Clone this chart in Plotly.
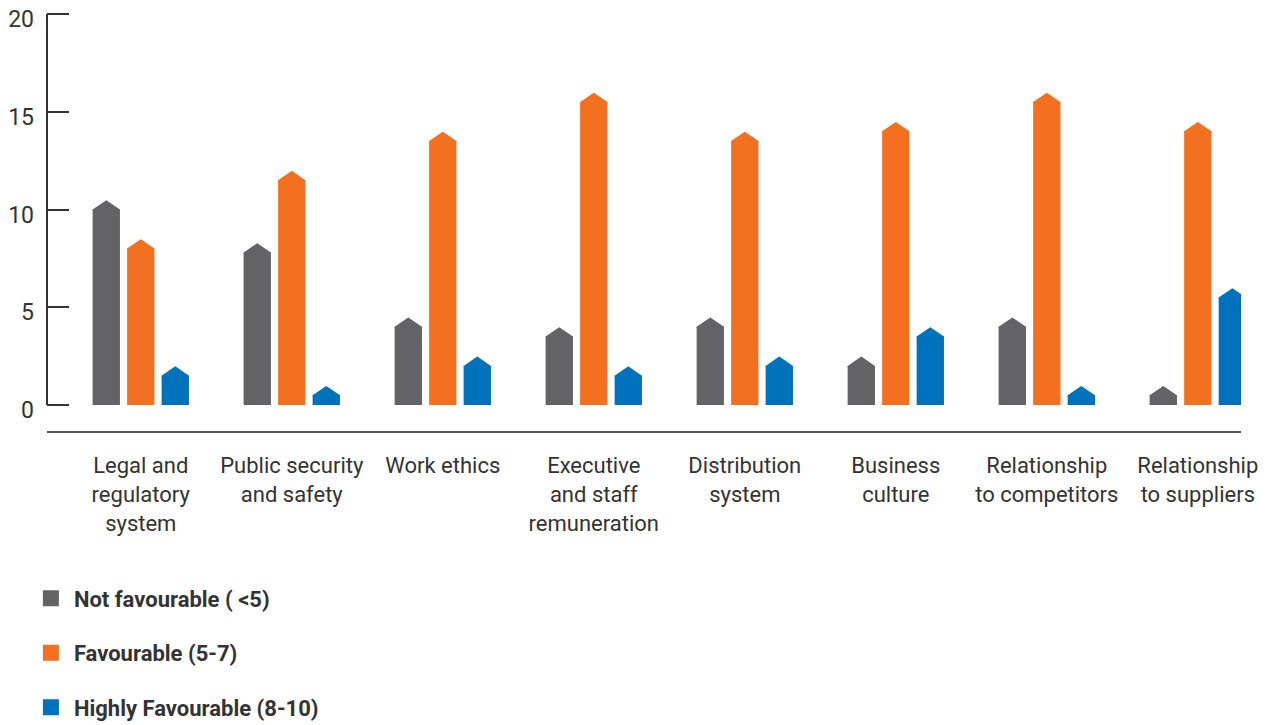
import plotly.graph_objects as go

categories = ["Legal and<br>regulatory<br>system", "Public security<br>and safety", "Work ethics",
              "Executive<br>and staff<br>remuneration", "Distribution<br>system", "Business<br>culture",
              "Relationship<br>to competitors", "Relationship<br>to suppliers"]
not_favourable = [10, 7.8, 4, 3.5, 4, 2, 4, 0.5]
favourable = [8, 11.5, 13.5, 15.5, 13.5, 14, 15.5, 14]
highly_favourable = [1.5, 0.5, 2, 1.5, 2, 3.5, 0.5, 5.5]
series_names = ["Not favourable ( <5)", "Favourable (5-7)", "Highly Favourable (8-10)"]
colors = ["#636365", "#F37021", "#0072BC"]
y_ticks = [0, 5, 10, 15, 20]

FONT = "Roboto, Liberation Sans, sans-serif"
bar_w = 0.181
offsets = [-0.2285, 0, 0.2285]
tip = 0.476

fig = go.Figure()
idx = list(range(len(categories)))
for j, (vals, name, col) in enumerate(zip([not_favourable, favourable, highly_favourable], series_names, colors)):
    xs = [i + offsets[j] for i in idx]
    fig.add_trace(go.Bar(x=xs, y=vals, width=bar_w, marker=dict(color=col, line=dict(width=0)),
                         name=name, showlegend=False, hoverinfo="skip"))
    px, py = [], []
    for x, v in zip(xs, vals):
        px += [x - bar_w / 2, x, x + bar_w / 2, x + bar_w / 2, x - bar_w / 2, None]
        py += [v, v + tip, v, v - 0.05, v - 0.05, None]
    fig.add_trace(go.Scatter(x=px, y=py, mode="lines", fill="toself", fillcolor=col,
                             line=dict(width=0, color=col), showlegend=False, hoverinfo="skip"))
    # legend proxy
    fig.add_trace(go.Scatter(x=[None], y=[None], mode="markers", name=name, legendgroup=name,
                             marker=dict(symbol="square", size=17, color=col)))

fig.update_layout(
    width=1272, height=725,
    margin=dict(l=47, r=31, t=8, b=294, autoexpand=False),
    paper_bgcolor="white", plot_bgcolor="white",
    barmode="overlay",
    font=dict(family=FONT, color="#333333"),
    xaxis=dict(range=[-0.621, 7.286], tickmode="array", tickvals=idx, ticktext=categories,
               showgrid=False, zeroline=False, showline=True, linecolor="#555555", linewidth=2,
               ticks="", ticklabelstandoff=14, automargin=False,
               tickfont=dict(size=22, color="#333333", family=FONT)),
    yaxis=dict(range=[-1.33, 20.307], tickmode="array", tickvals=y_ticks, showgrid=False, zeroline=False,
               showline=False, ticks="inside", ticklen=22, tickwidth=2, tickcolor="#333333",
               ticklabelshift=5, ticklabelstandoff=12, ticklabeloverflow="allow", automargin=False,
               tickfont=dict(size=23, color="#333333", family=FONT)),
    legend=dict(x=-0.016, xanchor="left", y=-0.346, yanchor="top", orientation="v",
                font=dict(size=22, color="#333333", family=FONT, weight="bold"), tracegroupgap=23,
                itemsizing="trace", itemwidth=36, itemclick=False),
    showlegend=True,
    shapes=[dict(type="line", xref="paper", yref="y", x0=0, x1=0, y0=0, y1=20,
                 line=dict(color="#333333", width=2))],
)
fig.write_html("out.html", config={"displayModeBar": False},
               post_script="document.body.style.margin='0';")
